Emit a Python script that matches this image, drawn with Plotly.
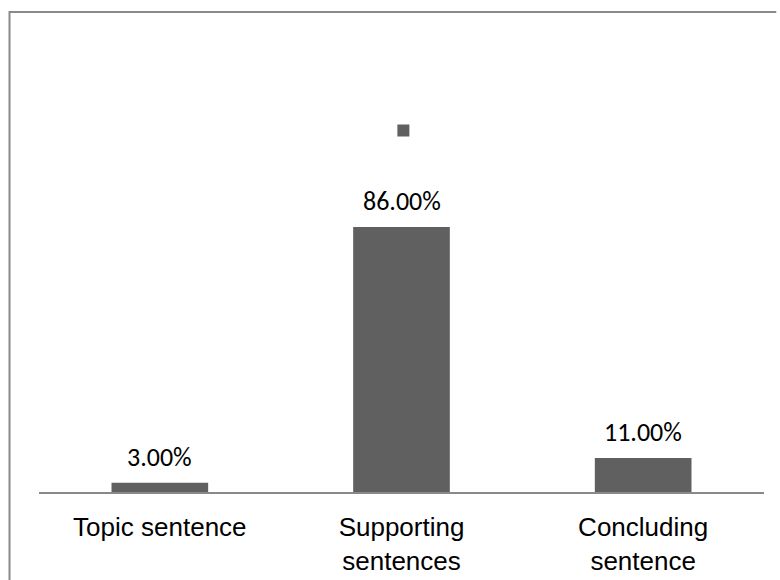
import plotly.graph_objects as go

categories = ["Topic sentence", "Supporting<br>sentences", "Concluding<br>sentence"]
values = [3.0, 86.0, 11.0]
value_labels = ["3.00%", "86.00%", "11.00%"]

BAR_COLOR = "#606060"
LINE_COLOR = "#898989"

W, H = 780, 580
ML, MR, MB, MT = 38.5, 16.25, 88, 184
plot_w = W - ML - MR
plot_h = H - MT - MB

fig = go.Figure()
fig.add_trace(go.Bar(
    x=categories, y=values, name=" ",
    marker=dict(color=BAR_COLOR, line=dict(width=0)),
    width=0.4, showlegend=True,
))

for c, v, t in zip(categories, values, value_labels):
    fig.add_annotation(
        x=c, y=v, text=t, showarrow=False, yanchor="bottom", yshift=8,
        font=dict(family="Carlito, Lato, sans-serif", size=26, color="#000000"),
    )

def px_x(p):
    return (p - ML) / plot_w

def px_y(p):
    return (H - MB - p) / plot_h

# outer chart frame: only its top and left edges fall inside the page
frame = dict(color=LINE_COLOR, width=2)
fig.add_shape(type="line", xref="paper", yref="paper",
              x0=px_x(9), x1=px_x(776), y0=px_y(12), y1=px_y(12), line=frame)
fig.add_shape(type="line", xref="paper", yref="paper",
              x0=px_x(9), x1=px_x(9), y0=px_y(11), y1=px_y(580), line=frame)

fig.update_layout(
    width=W, height=H,
    margin=dict(l=ML, r=MR, t=MT, b=MB, pad=0, autoexpand=False),
    paper_bgcolor="white", plot_bgcolor="white",
    showlegend=True,
    legend=dict(orientation="h", x=px_x(383), y=px_y(115), xanchor="left", yanchor="top",
                font=dict(family="Liberation Sans, Arial", size=14), bgcolor="rgba(0,0,0,0)"),
    xaxis=dict(showline=True, linecolor=LINE_COLOR, linewidth=2, ticks="", showgrid=False,
               automargin=False,
               tickfont=dict(family="Liberation Sans, Arial, sans-serif", size=26, color="#000000"),
               ticklabelstandoff=11),
    yaxis=dict(range=[0, 100], visible=False, showgrid=False, zeroline=False),
)

fig.write_html("out.html")
